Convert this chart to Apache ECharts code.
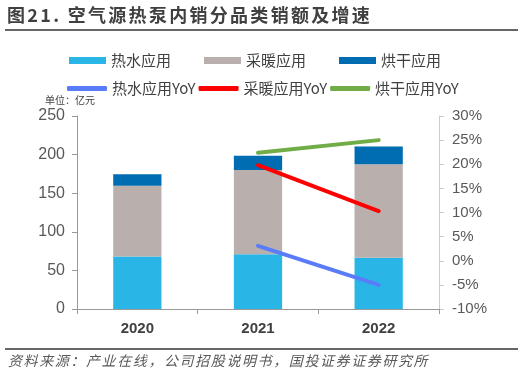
<!DOCTYPE html>
<html>
<head>
<meta charset="utf-8">
<script src="https://cdn.jsdelivr.net/npm/echarts@6/dist/echarts.min.js"></script>
<style>
  html, body { margin: 0; padding: 0; background: #fff; }
  #chart { width: 527px; height: 378px; }
</style>
</head>
<body>
<div id="chart"></div>
<script>
// 年份
var years = ['2020', '2021', '2022'];

// 销额（亿元）
var hotWater = [68, 71, 66.5];
var heating = [91.5, 109, 121];
var drying = [15, 18.5, 23];

// 同比增速（%）
var hotWaterYoY = [null, 3.1, -5];
var heatingYoY = [null, 19.8, 10.3];
var dryingYoY = [null, 22.4, 25];

var titleText = '图21. 空气源热泵内销分品类销额及增速';
var sourceText = '资料来源：产业在线，公司招股说明书，国投证券证券研究所';

var FONT = '"Liberation Sans", "Noto Sans CJK SC", sans-serif';
var CJK = '"Noto Sans CJK SC", sans-serif';

// 原图字距较宽，用 rich 文本给每个字加右边距
function spaced(str) {
    return str.split('').map(function (c) { return '{s|' + c + '}'; }).join('');
}

var chart = echarts.init(document.getElementById('chart'));

var option = {
    animation: false,
    textStyle: { fontFamily: FONT },
    grid: { left: 77, right: 88, top: 116, bottom: 69 },
    legend: [{
        // 柱状图图例
        data: ['热水应用', '采暖应用', '烘干应用'],
        left: 64, top: 48,
        icon: 'rect',
        itemWidth: 37, itemHeight: 7, itemGap: 33,
        textStyle: { fontFamily: CJK, fontSize: 15, color: '#404040' }
    }, {
        // 折线图例
        data: ['热水应用YoY', '采暖应用YoY', '烘干应用YoY'],
        left: 62, top: 76,
        icon: 'roundRect',
        itemWidth: 40, itemHeight: 5, itemGap: 3,
        textStyle: { fontFamily: CJK, fontSize: 15, color: '#404040' }
    }],
    xAxis: {
        type: 'category',
        data: years,
        axisLine: { lineStyle: { color: '#999' } },
        axisTick: { show: true, lineStyle: { color: '#999' } },
        axisLabel: { fontSize: 15, fontWeight: 'bold', color: '#404040', margin: 12 }
    },
    yAxis: [{
        type: 'value', min: 0, max: 250, interval: 50,
        splitLine: { show: false },
        axisLine: { show: true, lineStyle: { color: '#999' } },
        axisTick: { show: true, lineStyle: { color: '#999' } },
        axisLabel: { fontSize: 16, color: '#595959', margin: 12 }
    }, {
        type: 'value', min: -10, max: 30, interval: 5,
        splitLine: { show: false },
        axisLine: { show: true, lineStyle: { color: '#ccc' } },
        axisTick: { show: true, lineStyle: { color: '#ccc' } },
        axisLabel: { fontSize: 15, color: '#595959', margin: 13, formatter: '{value}%' }
    }],
    series: [{
        name: '热水应用', type: 'bar', stack: 'total', barWidth: '40%',
        itemStyle: { color: '#29B6E6' }, data: hotWater
    }, {
        name: '采暖应用', type: 'bar', stack: 'total',
        itemStyle: { color: '#B9B0AE' }, data: heating
    }, {
        name: '烘干应用', type: 'bar', stack: 'total',
        itemStyle: { color: '#006DB3' }, data: drying
    }, {
        name: '热水应用YoY', type: 'line', yAxisIndex: 1, symbol: 'none',
        lineStyle: { color: '#5B7CF8', width: 4, cap: 'round' },
        itemStyle: { color: '#5B7CF8' }, data: hotWaterYoY
    }, {
        name: '采暖应用YoY', type: 'line', yAxisIndex: 1, symbol: 'none',
        lineStyle: { color: '#FF0000', width: 4, cap: 'round' },
        itemStyle: { color: '#FF0000' }, data: heatingYoY
    }, {
        name: '烘干应用YoY', type: 'line', yAxisIndex: 1, symbol: 'none',
        lineStyle: { color: '#70AD47', width: 4, cap: 'round' },
        itemStyle: { color: '#70AD47' }, data: dryingYoY
    }],
    graphic: [
        { type: 'text', left: 7, top: 6,
          style: { text: spaced(titleText), fill: '#404040',
                   rich: { s: { fontFamily: CJK, fontSize: 18, fontWeight: 'bold', padding: [0, 2.3, 0, 0], fill: '#404040' } } } },
        { type: 'line', shape: { x1: 5, y1: 30, x2: 518, y2: 30 }, style: { stroke: '#333', lineWidth: 1.5 } },
        { type: 'text', left: 45, top: 95,
          style: { text: '单位：亿元', font: '10px ' + CJK, fill: '#404040' } },
        { type: 'line', shape: { x1: 5, y1: 349, x2: 518, y2: 349 }, style: { stroke: '#333', lineWidth: 1.5 } },
        { type: 'text', left: 8, top: 354,
          style: { text: spaced(sourceText), fill: '#595959',
                   rich: { s: { fontFamily: CJK, fontSize: 14, fontStyle: 'italic', padding: [0, 1.6, 0, 0], fill: '#595959' } } } }
    ]
};

chart.setOption(option);
</script>
</body>
</html>
